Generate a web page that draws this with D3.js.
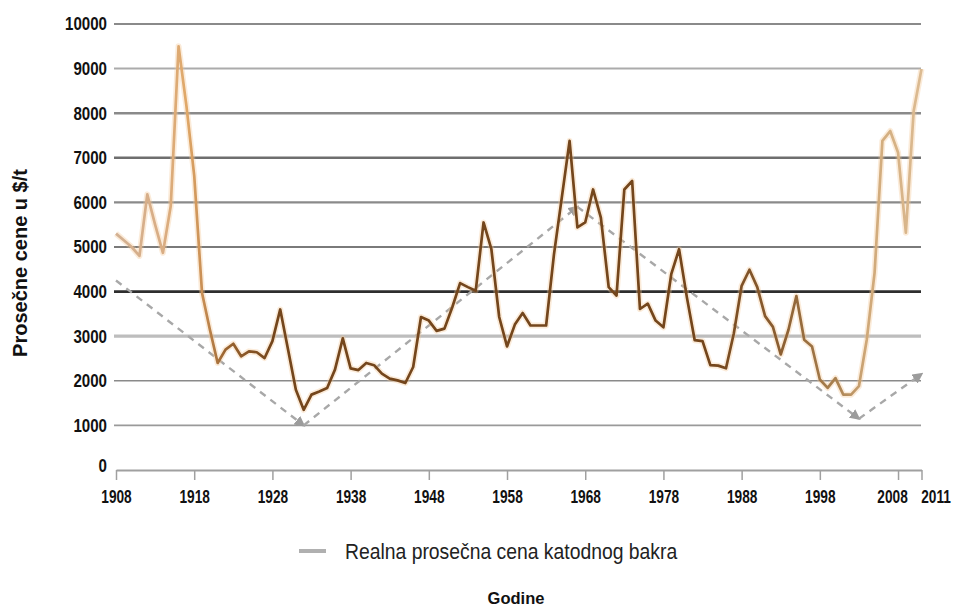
<!DOCTYPE html>
<html>
<head>
<meta charset="utf-8">
<script src="https://cdn.jsdelivr.net/npm/d3@7"></script>
<style>
  html, body { margin: 0; padding: 0; background: #fff; }
  svg { display: block; }
</style>
</head>
<body>
<svg id="chart" width="958" height="606"></svg>
<script>
// ---- data ----
const years = d3.range(1908, 2012);
const prices = [
  5300, 5150, 5000, 4800, 6180, 5500, 4870, 5920, 9500, 8170,   // 1908-1917
  6600, 3970, 3150, 2400, 2700, 2830, 2550, 2660, 2640, 2510,   // 1918-1927
  2890, 3600, 2700, 1800, 1350, 1690, 1760, 1840, 2250, 2950,   // 1928-1937
  2280, 2240, 2400, 2350, 2160, 2050, 2010, 1950, 2310, 3430,   // 1938-1947
  3350, 3120, 3170, 3650, 4190, 4100, 4020, 5550, 4950, 3430,   // 1948-1957
  2770, 3260, 3520, 3240, 3240, 3240, 4830, 6100, 7380, 5440,   // 1958-1967
  5550, 6290, 5660, 4100, 3910, 6290, 6480, 3610, 3730, 3350,   // 1968-1977
  3200, 4390, 4950, 3870, 2910, 2890, 2350, 2340, 2280, 3060,   // 1978-1987
  4130, 4490, 4100, 3450, 3210, 2590, 3150, 3900, 2920, 2770,   // 1988-1997
  2030, 1840, 2060, 1690, 1690, 1880, 2920, 4420, 7380, 7600,   // 1998-2007
  7120, 5320, 8050, 8990                                        // 2008-2011
];
const trendYears  = [1908, 1932, 1967, 2003, 2011];
const trendValues = [4250, 1000, 5900, 1150, 2150];
const xTickValues = [1908, 1918, 1928, 1938, 1948, 1958, 1968, 1978, 1988, 1998, 2008, 2011];
const yTickValues = [0, 1000, 2000, 3000, 4000, 5000, 6000, 7000, 8000, 9000, 10000];
const legendLabel = "Realna prosečna cena katodnog bakra";
const yTitle = "Prosečne cene u $/t";
const xTitle = "Godine";

// ---- styles ----
const gridStyle = {
  1000: ["#9a9a9a", 1.6], 2000: ["#8a8a8a", 1.6], 3000: ["#bdbdbd", 3.2],
  4000: ["#2e2e2e", 2.6], 5000: ["#7a7a7a", 2.2], 6000: ["#8a8a8a", 2.2],
  7000: ["#6e6e6e", 2.4], 8000: ["#8a8a8a", 2.4], 9000: ["#ababab", 2.0],
  10000: ["#8a8a8a", 1.8]
};
const labelShift = { 2008: -6, 2011: 14 };
const FONT = "Liberation Sans, Arial, sans-serif";

const svg = d3.select("#chart");
const x = d3.scaleLinear().domain([1908, 2011]).range([116, 921.5]);
const y = d3.scaleLinear().domain([0, 10000]).range([470, 24]);

// gridlines
svg.append("g").selectAll("line")
  .data(yTickValues.filter(d => d > 0))
  .join("line")
  .attr("x1", 114).attr("x2", 921)
  .attr("y1", d => y(d)).attr("y2", d => y(d))
  .attr("stroke", d => gridStyle[d][0])
  .attr("stroke-width", d => gridStyle[d][1]);

// y tick labels (condensed)
svg.append("g").selectAll("text")
  .data(yTickValues)
  .join("text")
  .attr("transform", d => `translate(107,${d === 0 ? y(d) - 4 : y(d)}) scale(0.84,1)`)
  .attr("dy", "0.35em")
  .attr("text-anchor", "end")
  .attr("font-family", FONT)
  .attr("font-weight", "bold")
  .attr("font-size", 18)
  .attr("fill", "#111")
  .text(d => d);

// x axis
const xAxis = svg.append("g")
  .attr("transform", "translate(0,470)")
  .call(d3.axisBottom(x).tickValues(xTickValues).tickSize(10).tickSizeOuter(0)
        .tickPadding(10).tickFormat(d3.format("d")));
xAxis.select(".domain").attr("stroke", "#a0a0a0").attr("stroke-width", 2);
xAxis.selectAll(".tick line").attr("stroke", "#a0a0a0").attr("stroke-width", 1.5);
xAxis.selectAll(".tick text")
  .attr("font-family", FONT)
  .attr("font-weight", "bold")
  .attr("font-size", 18.5)
  .attr("fill", "#111")
  .attr("transform", d => `translate(${labelShift[d] || 0},0) scale(0.74,1)`);

// gradient for price line
const defs = svg.append("defs");
const grad = defs.append("linearGradient")
  .attr("id", "lineGrad")
  .attr("gradientUnits", "userSpaceOnUse")
  .attr("x1", x(1908)).attr("x2", x(2011)).attr("y1", 0).attr("y2", 0);
const gradStops = [
  [1908, "#d3b193"], [1914, "#d9ad84"], [1917, "#e0a868"], [1919, "#c98f55"],
  [1922, "#9a6430"], [1928, "#74461c"], [1984, "#74461c"], [1993, "#8c5f32"],
  [2000, "#a98150"], [2004, "#cfa878"], [2011, "#dcbb92"]
];
grad.selectAll("stop").data(gradStops).join("stop")
  .attr("offset", d => (d[0] - 1908) / (2011 - 1908))
  .attr("stop-color", d => d[1]);

// arrow marker
defs.append("marker")
  .attr("id", "arrow")
  .attr("viewBox", "0 0 10 10")
  .attr("refX", 8).attr("refY", 5)
  .attr("markerWidth", 4.5).attr("markerHeight", 4.5)
  .attr("markerUnits", "strokeWidth")
  .attr("orient", "auto")
  .append("path").attr("d", "M0,0 L10,5 L0,10 z").attr("fill", "#9c9c9c");

// trend dashed segments
const trendPts = trendYears.map((yr, i) => [x(yr), y(trendValues[i])]);
svg.append("g").selectAll("line")
  .data(d3.pairs(trendPts))
  .join("line")
  .attr("x1", d => d[0][0]).attr("y1", d => d[0][1])
  .attr("x2", d => d[1][0]).attr("y2", d => d[1][1])
  .attr("stroke", "#a8a8a8")
  .attr("stroke-width", 2.4)
  .attr("stroke-dasharray", "7,6")
  .attr("marker-end", "url(#arrow)");

// price line
const lineGen = d3.line().x((d, i) => x(years[i])).y(d => y(d));
svg.append("path")
  .datum(prices)
  .attr("d", lineGen)
  .attr("fill", "none")
  .attr("stroke", "#f4c791")
  .attr("stroke-opacity", 0.35)
  .attr("stroke-width", 6)
  .attr("stroke-linejoin", "round");
svg.append("path")
  .datum(prices)
  .attr("d", lineGen)
  .attr("fill", "none")
  .attr("stroke", "url(#lineGrad)")
  .attr("stroke-width", 2.7)
  .attr("stroke-linejoin", "round");

// y title
svg.append("text")
  .attr("transform", "translate(27,263) rotate(-90)")
  .attr("text-anchor", "middle")
  .attr("font-family", FONT)
  .attr("font-weight", "bold")
  .attr("font-size", 20)
  .attr("fill", "#111")
  .text(yTitle);

// legend
svg.append("line")
  .attr("x1", 299).attr("x2", 326).attr("y1", 551).attr("y2", 551)
  .attr("stroke", "#b0b0b0").attr("stroke-width", 4);
svg.append("text")
  .attr("transform", "translate(345,551) scale(0.9,1)")
  .attr("dy", "0.35em")
  .attr("font-family", FONT)
  .attr("font-size", 21.5)
  .attr("fill", "#222")
  .text(legendLabel);

// x title
svg.append("text")
  .attr("x", 516).attr("y", 598).attr("dy", "0.35em")
  .attr("text-anchor", "middle")
  .attr("font-family", FONT)
  .attr("font-weight", "bold")
  .attr("font-size", 16.5)
  .attr("fill", "#111")
  .text(xTitle);
</script>
</body>
</html>
